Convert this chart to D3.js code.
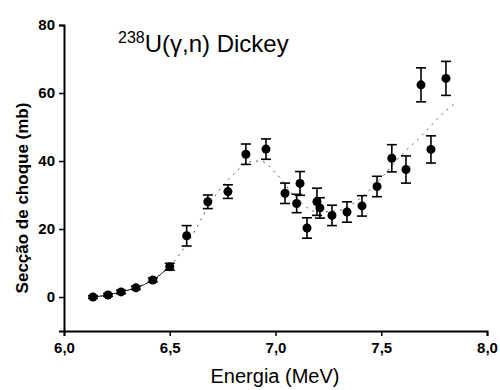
<!DOCTYPE html>
<html>
<head>
<meta charset="utf-8">
<script src="https://cdn.jsdelivr.net/npm/d3@7"></script>
<style>
  body { margin: 0; background: #fff; }
  svg { display: block; font-family: 'Liberation Sans', Arial, sans-serif; }
</style>
</head>
<body>
<figure style="margin:0"></figure>
<script>
const width = 500
const height = 390

// measured points: energy (MeV), cross section (mb), error (mb)
const energy = [6.137, 6.208, 6.27, 6.34, 6.42, 6.50, 6.58, 6.68, 6.775, 6.86, 6.955,
  7.045, 7.10, 7.116, 7.149, 7.196, 7.21, 7.267, 7.338, 7.409, 7.48, 7.55, 7.617,
  7.688, 7.735, 7.806]
const sigma = [0, 0.6, 1.5, 2.7, 5, 8.9, 18, 28, 31, 42, 43.5,
  30.5, 27.5, 33.4, 20.3, 28, 26.2, 24, 25, 26.8, 32.5, 40.8, 37.5,
  62.4, 43.4, 64.3]
const err = [0.4, 0.4, 0.5, 0.5, 0.6, 1, 3, 2, 2, 3, 3,
  3, 2.7, 3.5, 3, 4, 3, 3, 3, 3, 3, 4, 4,
  5, 4, 5]

// fitted curve
const fitE = [6.137, 6.208, 6.27, 6.34, 6.42, 6.5, 6.6, 6.7, 6.8, 6.88, 6.93, 7.0,
  7.1, 7.2, 7.3, 7.4, 7.5, 7.6, 7.7, 7.8, 7.86]
const fitS = [0, 0.6, 1.5, 2.7, 5, 9, 17.5, 28.5, 36, 39.8, 40, 36.5,
  29, 25, 25.5, 29, 35, 42, 48, 54.5, 57.5]

const xTicks = [6.0, 6.5, 7.0, 7.5, 8.0]
const yTicks = [0, 20, 40, 60, 80]

const margin = { top: 25, right: 13, bottom: 59, left: 64 }

const svg = d3.select('figure').append('svg')
  .attr('width', width)
  .attr('height', height)

const x = d3.scaleLinear().domain([6, 8]).range([margin.left, width - margin.right])
const y = d3.scaleLinear().domain([-10, 80]).range([height - margin.bottom, margin.top])

const fmt = d => d3.format('.1f')(d).replace('.', ',')

// x axis
const xAxis = svg.append('g')
  .attr('transform', `translate(0,${height - margin.bottom})`)
xAxis.call(d3.axisBottom(x).tickValues(d3.range(6, 8.001, 0.25)).tickSize(3).tickFormat(''))
xAxis.call(d3.axisBottom(x).tickValues(xTicks).tickSize(5).tickFormat(fmt))
xAxis.selectAll('path').attr('stroke-width', 2)
xAxis.selectAll('line').attr('stroke-width', 1.5)
xAxis.selectAll('text')
  .attr('font-size', 15)
  .attr('font-weight', 'bold')
  .attr('dy', '0.95em')

// y axis
const yAxis = svg.append('g')
  .attr('transform', `translate(${margin.left},0)`)
yAxis.call(d3.axisLeft(y).tickValues(d3.range(-10, 80.1, 10)).tickSize(3).tickFormat(''))
yAxis.call(d3.axisLeft(y).tickValues(yTicks).tickSize(5))
yAxis.selectAll('path').attr('stroke-width', 2)
yAxis.selectAll('line').attr('stroke-width', 1.5)
yAxis.selectAll('text')
  .attr('font-size', 15)
  .attr('font-weight', 'bold')
  .attr('x', -9)

// fit curve
const line = d3.line()
  .x((d, i) => x(fitE[i]))
  .y(d => y(d))
  .curve(d3.curveMonotoneX)

svg.append('path')
  .datum(fitS)
  .attr('fill', 'none')
  .attr('stroke', '#555')
  .attr('stroke-width', 1)
  .attr('stroke-dasharray', '2,5')
  .attr('d', line)

// solid piece at low energy
svg.append('path')
  .datum(fitS.slice(0, 6))
  .attr('fill', 'none')
  .attr('stroke', '#222')
  .attr('stroke-width', 1)
  .attr('d', line)

// error bars
const bars = svg.append('g')
  .selectAll('g')
  .data(energy)
  .join('g')
  .attr('stroke', '#000')
  .attr('stroke-width', 1.6)

bars.append('line')
  .attr('x1', d => x(d)).attr('x2', d => x(d))
  .attr('y1', (d, i) => y(sigma[i] + err[i]))
  .attr('y2', (d, i) => y(sigma[i] - err[i]))
bars.append('line')
  .attr('x1', d => x(d) - 5).attr('x2', d => x(d) + 5)
  .attr('y1', (d, i) => y(sigma[i] + err[i]))
  .attr('y2', (d, i) => y(sigma[i] + err[i]))
bars.append('line')
  .attr('x1', d => x(d) - 5).attr('x2', d => x(d) + 5)
  .attr('y1', (d, i) => y(sigma[i] - err[i]))
  .attr('y2', (d, i) => y(sigma[i] - err[i]))

// markers
svg.append('g')
  .selectAll('circle')
  .data(energy)
  .join('circle')
  .attr('cx', d => x(d))
  .attr('cy', (d, i) => y(sigma[i]))
  .attr('r', 4.5)
  .attr('fill', '#000')

// title
const title = svg.append('text')
  .attr('x', 118)
  .attr('y', 52)
  .attr('font-size', 24)
title.append('tspan')
  .attr('font-size', 16)
  .attr('dy', -9)
  .text('238')
title.append('tspan')
  .attr('dy', 9)
  .text('U(γ,n) Dickey')

// axis labels
svg.append('text')
  .attr('x', 275)
  .attr('y', 383)
  .attr('text-anchor', 'middle')
  .attr('font-size', 20)
  .text('Energia (MeV)')

svg.append('text')
  .attr('transform', 'translate(28,198) rotate(-90)')
  .attr('text-anchor', 'middle')
  .attr('font-size', 17)
  .attr('font-weight', 'bold')
  .text('Secção de choque (mb)')
</script>
</body>
</html>
